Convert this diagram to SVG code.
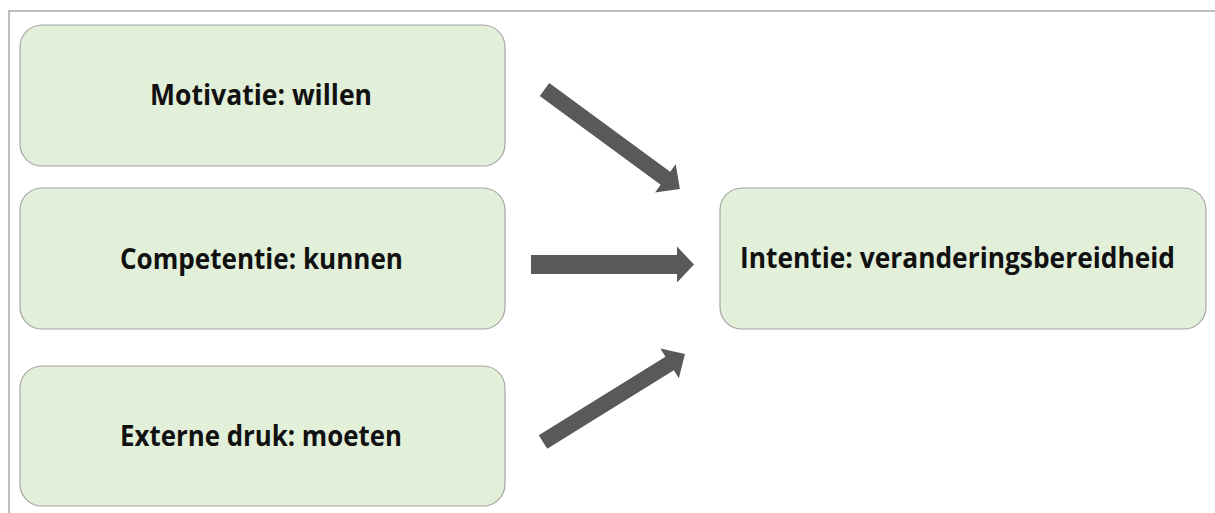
<svg xmlns="http://www.w3.org/2000/svg" width="1215" height="513" viewBox="0 0 1215 513">
<style>
.box{fill:#e2efd9;stroke:#a5a5a5;stroke-width:1.2}
.lbl{font-family:"Open Sans","Liberation Sans",sans-serif;font-weight:bold;font-size:28px;fill:#111;text-anchor:middle}
.arr{fill:#595959}
.frame{stroke:#a6a6a6;stroke-width:1.5;fill:none}
</style>
<rect width="1215" height="513" fill="#fff"/>
<path class="frame" d="M9,513 V11 H1215"/>
<g id="node-motivatie">
<rect class="box" x="20" y="25" width="485" height="141" rx="22"/>
<text class="lbl" x="261" y="105" textLength="222" lengthAdjust="spacingAndGlyphs">Motivatie: willen</text>
</g>
<g id="node-competentie">
<rect class="box" x="20" y="188" width="485" height="141" rx="22"/>
<text class="lbl" x="261.5" y="269" textLength="283" lengthAdjust="spacingAndGlyphs">Competentie: kunnen</text>
</g>
<g id="node-externe">
<rect class="box" x="20" y="366" width="485" height="140" rx="22"/>
<text class="lbl" x="261" y="446" textLength="282" lengthAdjust="spacingAndGlyphs">Externe druk: moeten</text>
</g>
<g id="node-intentie">
<rect class="box" x="720" y="188" width="486" height="141" rx="22"/>
<text class="lbl" x="957.5" y="268" textLength="435" lengthAdjust="spacingAndGlyphs">Intentie: veranderingsbereidheid</text>
</g>
<g id="connectors">
<polygon class="arr" transform="translate(544.5,89.5) rotate(36.3)" points="0,-8 150,-8 150,-17.5 168,0 150,17.5 150,8 0,8"/>
<polygon class="arr" transform="translate(531,264.5)" points="0,-9.5 146,-9.5 146,-18 163,0 146,18 146,9.5 0,9.5"/>
<polygon class="arr" transform="translate(543,442) rotate(-31.8)" points="0,-8 149,-8 149,-17.5 167,0 149,17.5 149,8 0,8"/>
</g>
</svg>
